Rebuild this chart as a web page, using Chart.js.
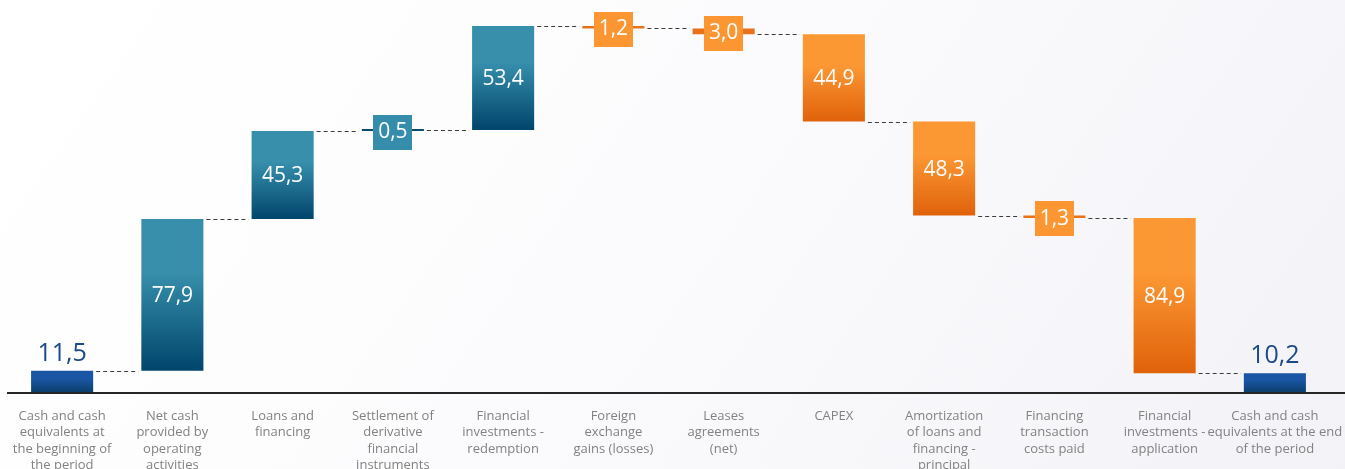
<!DOCTYPE html>
<html>
<head>
<meta charset="utf-8">
<script src="https://cdn.jsdelivr.net/npm/chart.js@4/dist/chart.umd.min.js"></script>
<style>
  html, body { margin: 0; padding: 0; }
  body {
    width: 1345px; height: 469px; overflow: hidden;
    background: linear-gradient(125deg, #ffffff 0%, #fdfdfe 35%, #f9f9fc 60%, #f3f3f7 100%);
  }
  #wrap { position: relative; width: 1345px; height: 469px; }
</style>
</head>
<body>
<div id="wrap"><canvas id="c"></canvas></div>
<script>
// ---- data ----
const categories = [
  ["Cash and cash", "equivalents at", "the beginning of", "the period"],
  ["Net cash", "provided by", "operating", "activities"],
  ["Loans and", "financing"],
  ["Settlement of", "derivative", "financial", "instruments"],
  ["Financial", "investments -", "redemption"],
  ["Foreign", "exchange", "gains (losses)"],
  ["Leases", "agreements", "(net)"],
  ["CAPEX"],
  ["Amortization", "of loans and", "financing -", "principal"],
  ["Financing", "transaction", "costs paid"],
  ["Financial", "investments -", "application"],
  ["Cash and cash", "equivalents at the end", "of the period"]
];
const displayValues = [11.5, 77.9, 45.3, 0.5, 53.4, 1.2, 3.0, 44.9, 48.3, 1.3, 84.9, 10.2];
const barStart = [0, 11.5, 89.4, 134.7, 135.2, 188.6, 187.4, 184.4, 139.5, 91.2, 89.9, 0];
const barEnd   = [11.5, 89.4, 134.7, 135.2, 188.6, 187.4, 184.4, 139.5, 91.2, 89.9, 10.2, 10.2];
const barKind  = ["total", "up", "up", "up", "up", "down", "down", "down", "down", "down", "down", "total"];

// ---- styles ----
const FONT = "'Open Sans', 'Noto Sans', sans-serif";
const palette = {
  total: { top: "#1a56a4", bottom: "#0a3d68", flat: "#1a56a4", line: "#0a3d68" },
  up:    { top: "#378fac", bottom: "#00456b", flat: "#368dab", line: "#0a4a6c" },
  down:  { top: "#fc9834", bottom: "#e0620b", flat: "#fb9633", line: "#e8711a" }
};

const fmt = v => v.toFixed(1).replace('.', ',');

function barColor(ctx) {
  const chart = ctx.chart;
  const i = ctx.dataIndex;
  const p = palette[barKind[i]];
  const y = chart.scales.y;
  if (!chart.chartArea || !y) return p.flat;
  const hi = Math.max(barStart[i], barEnd[i]);
  const lo = Math.min(barStart[i], barEnd[i]);
  const yTop = y.getPixelForValue(hi);
  const yBot = y.getPixelForValue(lo);
  if (yBot - yTop < 8) return p.line;
  const g = chart.ctx.createLinearGradient(0, yTop, 0, yBot);
  g.addColorStop(0, p.top);
  g.addColorStop(0.35, p.top);
  g.addColorStop(1, p.bottom);
  return g;
}

const waterfallPlugin = {
  id: 'waterfallDecor',
  beforeDatasetsDraw(chart) {
    const ctx = chart.ctx;
    const meta = chart.getDatasetMeta(0);
    const y = chart.scales.y;
    ctx.save();
    ctx.strokeStyle = "#3c3c3c";
    ctx.lineWidth = 1;
    ctx.setLineDash([4, 3]);
    for (let i = 0; i < meta.data.length - 1; i++) {
      const a = meta.data[i], b = meta.data[i + 1];
      const lvl = Math.round(y.getPixelForValue(barEnd[i])) + 0.5;
      ctx.beginPath();
      ctx.moveTo(a.x + a.width / 2 + 3, lvl);
      ctx.lineTo(b.x - b.width / 2 - 3, lvl);
      ctx.stroke();
    }
    ctx.restore();
  },
  afterDatasetsDraw(chart) {
    const ctx = chart.ctx;
    const meta = chart.getDatasetMeta(0);
    const y = chart.scales.y;
    ctx.save();
    ctx.textAlign = "center";
    ctx.textBaseline = "middle";
    meta.data.forEach((el, i) => {
      const kind = barKind[i];
      const label = fmt(displayValues[i]);
      const yTop = y.getPixelForValue(Math.max(barStart[i], barEnd[i]));
      const yBot = y.getPixelForValue(Math.min(barStart[i], barEnd[i]));
      const cy = (yTop + yBot) / 2;
      if (kind === "total") {
        ctx.font = "25px " + FONT;
        ctx.fillStyle = "#1c4a88";
        ctx.fillText(label, el.x, yTop - 17);
      } else if (yBot - yTop < 12) {
        ctx.font = "21px " + FONT;
        const w = ctx.measureText(label).width + 10;
        const h = 35;
        const by = cy + 2;
        ctx.fillStyle = palette[kind].flat;
        ctx.fillRect(Math.round(el.x - w / 2), Math.round(by - h / 2), Math.round(w), h);
        ctx.fillStyle = "#ffffff";
        ctx.fillText(label, el.x, by);
      } else {
        ctx.font = "21px " + FONT;
        ctx.fillStyle = "#ffffff";
        ctx.fillText(label, el.x, cy + 1);
      }
    });
    const base = Math.round(y.getPixelForValue(0));
    ctx.fillStyle = "#262626";
    ctx.fillRect(7, base - 1, chart.width - 7, 2);
    ctx.restore();
  }
};

new Chart(document.getElementById('c'), {
  type: 'bar',
  data: {
    labels: categories,
    datasets: [{
      data: barStart.map((s, i) => [s, barEnd[i]]),
      backgroundColor: barColor,
      borderWidth: 0,
      minBarLength: 2,
      categoryPercentage: 1.0,
      barPercentage: 0.563
    }]
  },
  options: {
    responsive: true,
    maintainAspectRatio: false,
    animation: false,
    layout: { padding: { left: 7, right: 15, top: 0, bottom: 0 } },
    plugins: { legend: { display: false }, tooltip: { enabled: false } },
    scales: {
      y: { display: false, min: 0, max: 202 },
      x: {
        grid: { display: false },
        border: { display: false },
        ticks: {
          color: "#828282",
          font: { family: FONT, size: 13, lineHeight: 1.26 },
          padding: 7,
          maxRotation: 0,
          autoSkip: false
        },
        afterFit(scale) {
          scale.height = 76;
          scale.paddingLeft = 0;
          scale.paddingRight = 0;
        }
      }
    }
  },
  plugins: [waterfallPlugin]
});
</script>
</body>
</html>
